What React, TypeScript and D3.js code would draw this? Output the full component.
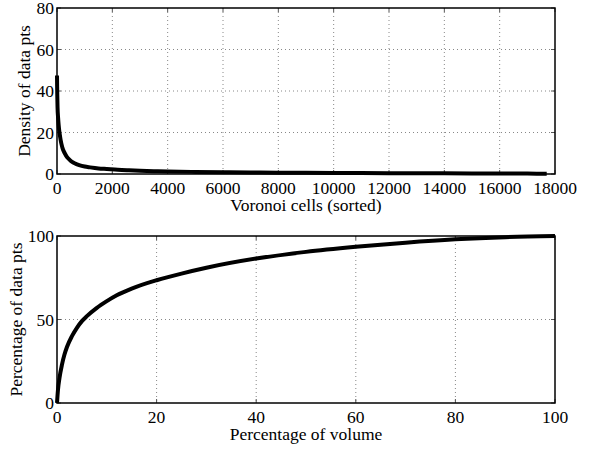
import React from "react";
import * as d3 from "d3";

// Voronoi cell density, cells sorted by decreasing density
const cellIndex = [0, 5, 10, 20, 40, 60, 80, 100, 130, 160, 200, 250, 300, 350, 400, 500, 600, 700, 800, 1000, 1200, 1500, 1800, 2200, 2600, 3000, 3500, 4000, 5000, 6000, 7000, 8000, 9000, 10000, 11000, 12000, 13000, 14000, 15000, 16000, 17000, 17700];
const cellDensity = [47.5, 42, 38, 32, 27, 23.5, 21, 19, 16.5, 14.5, 12.5, 10.8, 9.5, 8.4, 7.6, 6.3, 5.4, 4.8, 4.3, 3.6, 3.2, 2.7, 2.4, 2.0, 1.75, 1.55, 1.35, 1.2, 1.0, 0.85, 0.75, 0.65, 0.58, 0.5, 0.45, 0.4, 0.36, 0.32, 0.28, 0.24, 0.2, 0.15];

// Cumulative share of data points vs. share of volume
const volumePct = [0, 0.2, 0.5, 1, 1.5, 2, 3, 4, 5, 6, 8, 10, 12, 15, 20, 25, 30, 40, 50, 60, 70, 80, 90, 100];
const pointsPct = [0, 8, 15, 23, 29, 33.5, 40, 45, 49, 52, 57, 61, 64.5, 68.5, 73.5, 77.5, 81, 86.5, 90.5, 93.5, 96, 98, 99.3, 100];

const topXTicks = [0, 2000, 4000, 6000, 8000, 10000, 12000, 14000, 16000, 18000];
const topYTicks = [0, 20, 40, 60, 80];
const botXTicks = [0, 20, 40, 60, 80, 100];
const botYTicks = [0, 50, 100];

const FONT = "Liberation Serif";
const FS = 17.5;

type PanelProps = {
  top: number;
  bottom: number;
  xDomain: [number, number];
  yDomain: [number, number];
  xTicks: number[];
  yTicks: number[];
  xs: number[];
  ys: number[];
  xLabel: string;
  yLabel: string;
  yLabelX: number;
};

const LEFT = 57;
const RIGHT = 555;

function Panel(p: PanelProps) {
  const x = d3.scaleLinear().domain(p.xDomain).range([LEFT, RIGHT]);
  const y = d3.scaleLinear().domain(p.yDomain).range([p.bottom, p.top]);
  const line = d3
    .line<number>()
    .x((_, i) => x(p.xs[i]))
    .y((d) => y(d))
    .curve(d3.curveMonotoneX);
  const midX = (LEFT + RIGHT) / 2;
  const midY = (p.top + p.bottom) / 2;
  return (
    <g>
      {/* dotted grid */}
      {p.xTicks.slice(1, -1).map((t) => (
        <line key={"gx" + t} x1={x(t)} x2={x(t)} y1={p.top} y2={p.bottom} stroke="#888" strokeWidth={1} strokeDasharray="1,3" />
      ))}
      {p.yTicks.slice(1, -1).map((t) => (
        <line key={"gy" + t} x1={LEFT} x2={RIGHT} y1={y(t)} y2={y(t)} stroke="#888" strokeWidth={1} strokeDasharray="1,3" />
      ))}
      {/* inward ticks */}
      {p.xTicks.map((t) => (
        <g key={"tx" + t}>
          <line x1={x(t)} x2={x(t)} y1={p.bottom} y2={p.bottom - 4} stroke="#555" />
          <line x1={x(t)} x2={x(t)} y1={p.top} y2={p.top + 4} stroke="#555" />
        </g>
      ))}
      {p.yTicks.map((t) => (
        <g key={"ty" + t}>
          <line x1={LEFT} x2={LEFT + 4} y1={y(t)} y2={y(t)} stroke="#555" />
          <line x1={RIGHT} x2={RIGHT - 4} y1={y(t)} y2={y(t)} stroke="#555" />
        </g>
      ))}
      <path d={line(p.ys) ?? ""} fill="none" stroke="#000" strokeWidth={4} strokeLinejoin="round" />
      <rect x={LEFT} y={p.top} width={RIGHT - LEFT} height={p.bottom - p.top} fill="none" stroke="#000" strokeWidth={1.5} />
      {p.xTicks.map((t) => (
        <text key={"lx" + t} x={x(t)} y={p.bottom + 20} textAnchor="middle" fontFamily={FONT} fontSize={FS}>
          {t}
        </text>
      ))}
      {p.yTicks.map((t) => (
        <text key={"ly" + t} x={LEFT - 3} y={y(t) + 6} textAnchor="end" fontFamily={FONT} fontSize={FS}>
          {t}
        </text>
      ))}
      <text x={midX} y={p.bottom + 37} textAnchor="middle" fontFamily={FONT} fontSize={FS}>
        {p.xLabel}
      </text>
      <text transform={`translate(${p.yLabelX},${midY}) rotate(-90)`} textAnchor="middle" fontFamily={FONT} fontSize={FS}>
        {p.yLabel}
      </text>
    </g>
  );
}

export default function App() {
  return (
    <svg width={591} height={449} style={{ position: "absolute", left: 0, top: 0, background: "#fff" }}>
      <rect width={591} height={449} fill="#fff" />
      <Panel
        top={8}
        bottom={174}
        xDomain={[0, 18000]}
        yDomain={[0, 80]}
        xTicks={topXTicks}
        yTicks={topYTicks}
        xs={cellIndex}
        ys={cellDensity}
        xLabel="Voronoi cells (sorted)"
        yLabel="Density of data pts"
        yLabelX={30}
      />
      <Panel
        top={236}
        bottom={403}
        xDomain={[0, 100]}
        yDomain={[0, 100]}
        xTicks={botXTicks}
        yTicks={botYTicks}
        xs={volumePct}
        ys={pointsPct}
        xLabel="Percentage of volume"
        yLabel="Percentage of data pts"
        yLabelX={22}
      />
    </svg>
  );
}
